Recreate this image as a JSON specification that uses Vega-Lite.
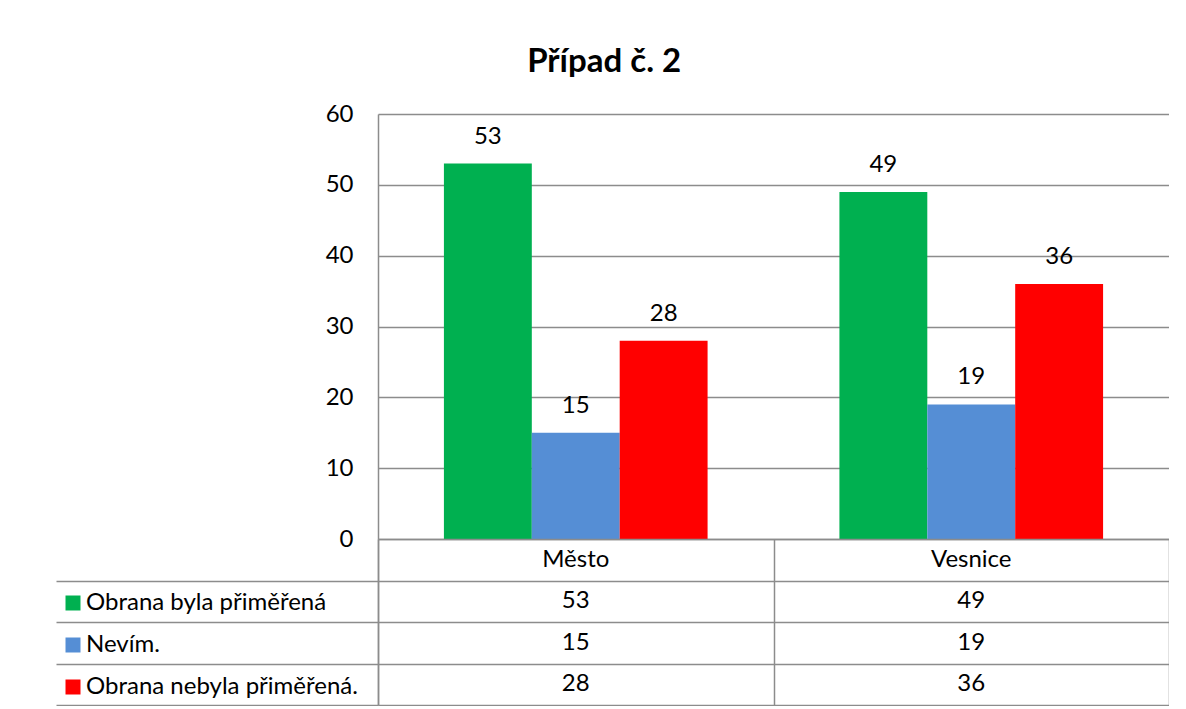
{
  "$schema": "https://vega.github.io/schema/vega-lite/v6.json",
  "padding": {"left": 55, "top": 46, "right": 0, "bottom": 0},
  "background": "white",
  "title": {"text": "Případ č. 2", "font": "Lato", "fontSize": 33, "fontWeight": "bold", "color": "black", "anchor": "middle", "frame": "bounds", "offset": 23, "dx": -8},
  "datasets": {
    "vals": [
      {"category": "Město", "series": "Obrana byla přiměřená", "value": 53},
      {"category": "Město", "series": "Nevím.", "value": 15},
      {"category": "Město", "series": "Obrana nebyla přiměřená.", "value": 28},
      {"category": "Vesnice", "series": "Obrana byla přiměřená", "value": 49},
      {"category": "Vesnice", "series": "Nevím.", "value": 19},
      {"category": "Vesnice", "series": "Obrana nebyla přiměřená.", "value": 36}
    ]
  },
  "config": {
    "view": {"stroke": null},
    "font": "Lato"
  },
  "spacing": 0,
  "bounds": "flush",
  "resolve": {"legend": {"color": "independent"}},
  "vconcat": [
    {
      "width": 791,
      "height": 425,
      "data": {"name": "vals"},
      "encoding": {
        "x": {"field": "category", "type": "nominal", "sort": ["Město", "Vesnice"], "scale": {"paddingInner": 0, "paddingOuter": 0}, "axis": null},
        "xOffset": {"field": "series", "type": "nominal", "sort": ["Obrana byla přiměřená", "Nevím.", "Obrana nebyla přiměřená."], "scale": {"paddingInner": 0, "paddingOuter": 0.75}},
        "y": {"field": "value", "type": "quantitative", "scale": {"domain": [0, 60], "nice": false},
          "axis": {"values": [0, 10, 20, 30, 40, 50, 60], "title": null, "ticks": false, "labelPadding": 25, "labelFont": "Lato", "labelFontSize": 24, "labelColor": "black", "gridColor": "#8C8C8C", "gridWidth": 1.5, "domainColor": "#8C8C8C", "domainWidth": 1.5}}
      },
      "layer": [
        {
          "mark": {"type": "bar"},
          "encoding": {
            "color": {"field": "series", "type": "nominal", "sort": ["Obrana byla přiměřená", "Nevím.", "Obrana nebyla přiměřená."], "scale": {"domain": ["Obrana byla přiměřená", "Nevím.", "Obrana nebyla přiměřená."], "range": ["#00B050", "#558ED5", "#FF0000"]}, "legend": null}
          }
        },
        {
          "mark": {"type": "text", "baseline": "middle", "dy": -27, "font": "Lato", "fontSize": 24, "color": "black"},
          "encoding": {"text": {"field": "value", "type": "quantitative"}}
        }
      ]
    },
    {
      "width": 791,
      "height": 166,
      "encoding": {
        "x": {"field": "category", "type": "nominal", "sort": ["Město", "Vesnice"], "scale": {"paddingInner": 0, "paddingOuter": 0},
          "axis": {"orient": "bottom", "title": null, "labels": false, "ticks": false, "domain": false, "grid": true, "tickBand": "extent", "gridColor": "#8C8C8C", "gridWidth": 1.5}}
      },
      "layer": [
        {
          "data": {"name": "vals"},
          "mark": {"type": "text", "font": "Lato", "fontSize": 24, "color": "black", "baseline": "middle"},
          "encoding": {
            "y": {"field": "series", "type": "nominal", "scale": {"domain": ["hdr", "Obrana byla přiměřená", "Nevím.", "Obrana nebyla přiměřená."], "paddingInner": 0, "paddingOuter": 0},
              "axis": {"title": null, "labels": false, "grid": true, "tickBand": "extent", "gridColor": "#8C8C8C", "gridWidth": 1.5, "domainColor": "#8C8C8C", "domainWidth": 1.5, "tickSize": 322, "tickColor": "#8C8C8C", "tickWidth": 1.5,
                "tickOpacity": {"condition": {"test": "datum.extra", "value": 0}, "value": 1}}},
            "text": {"field": "value", "type": "quantitative"}
          }
        },
        {
          "data": {"name": "vals"},
          "mark": {"type": "square", "opacity": 0},
          "encoding": {
            "y": {"field": "series", "type": "nominal"},
            "color": {"field": "series", "type": "nominal", "sort": ["Obrana byla přiměřená", "Nevím.", "Obrana nebyla přiměřená."],
              "legend": {"orient": "none", "legendX": -317, "legendY": 52, "title": null, "direction": "vertical", "symbolType": "square", "symbolSize": 225, "symbolStrokeWidth": 0, "symbolOpacity": 1, "labelFont": "Lato", "labelFontSize": 24, "labelColor": "black", "labelLimit": 0, "labelOffset": 1, "rowPadding": 18, "padding": 0}}
          }
        },
        {
          "data": {"values": [{"category": "Město"}, {"category": "Vesnice"}]},
          "mark": {"type": "text", "font": "Lato", "fontSize": 24, "color": "black", "baseline": "middle"},
          "encoding": {
            "y": {"datum": "hdr", "type": "nominal"},
            "text": {"field": "category", "type": "nominal"}
          }
        }
      ]
    }
  ]
}
